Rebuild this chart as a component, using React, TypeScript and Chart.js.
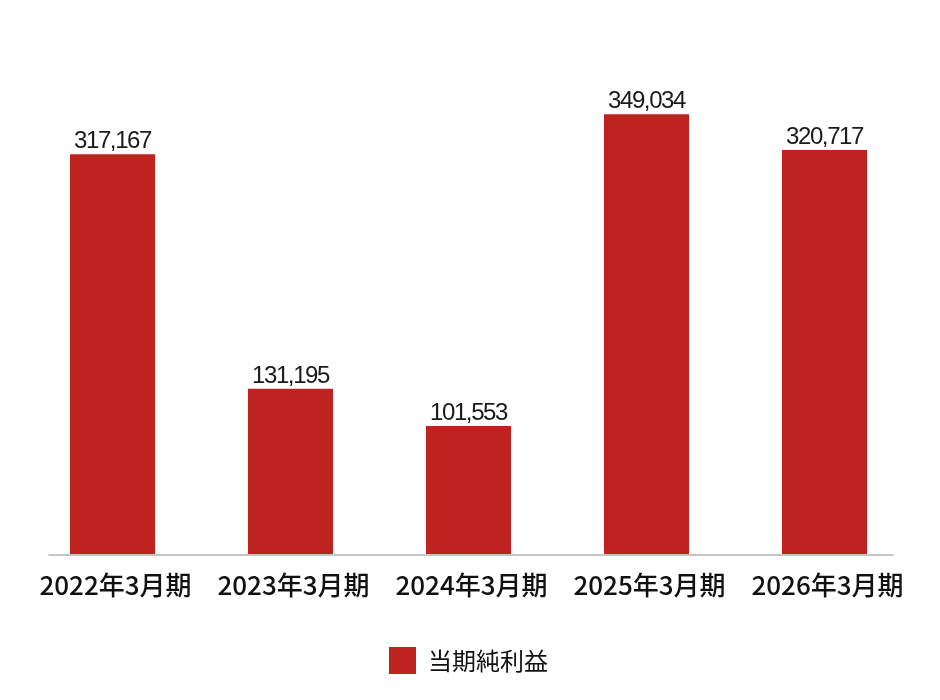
import { useEffect, useRef } from "react";
import Chart from "chart.js/auto";

const PERIODS = ["2022年3月期", "2023年3月期", "2024年3月期", "2025年3月期", "2026年3月期"];
const NET_INCOME = [317167, 131195, 101553, 349034, 320717];
const SERIES_LABEL = "当期純利益";

const BAR_RED = "#bf2320";

// value labels above each bar
const valueLabels = {
  id: "valueLabels",
  afterDatasetsDraw(chart: any) {
    const ctx = chart.ctx;
    const meta = chart.getDatasetMeta(0);
    ctx.save();
    ctx.font = "24px 'Liberation Sans', Arial, sans-serif";
    ctx.letterSpacing = "-1.4px";
    ctx.fillStyle = "#1a1a1a";
    ctx.textAlign = "center";
    ctx.textBaseline = "alphabetic";
    meta.data.forEach((bar: any, i: number) => {
      const v = chart.data.datasets[0].data[i] as number;
      ctx.fillText(v.toLocaleString("en-US"), bar.x, bar.y - 6);
    });
    ctx.restore();
  },
};

// baseline drawn a little shorter than the plot area
const baseLine = {
  id: "baseLine",
  beforeDatasetsDraw(chart: any) {
    const { ctx, chartArea } = chart;
    ctx.save();
    ctx.strokeStyle = "#c4c4c4";
    ctx.lineWidth = 2;
    ctx.beginPath();
    ctx.moveTo(chartArea.left + 25, chartArea.bottom + 1);
    ctx.lineTo(chartArea.right - 20, chartArea.bottom + 1);
    ctx.stroke();
    ctx.restore();
  },
};

export default function App() {
  const canvasRef = useRef<HTMLCanvasElement>(null);
  const chartRef = useRef<Chart | null>(null);

  useEffect(() => {
    document.body.style.margin = "0";
    if (!canvasRef.current) return;
    if (chartRef.current) chartRef.current.destroy();

    chartRef.current = new Chart(canvasRef.current, {
      type: "bar",
      data: {
        labels: PERIODS,
        datasets: [
          {
            label: SERIES_LABEL,
            data: NET_INCOME,
            backgroundColor: BAR_RED,
            categoryPercentage: 1,
            barPercentage: 0.478,
          },
        ],
      },
      options: {
        responsive: false,
        animation: false,
        layout: { padding: { top: 50, left: 23.5, right: 26.5, bottom: 16 } },
        plugins: {
          tooltip: { enabled: false },
          legend: {
            position: "bottom",
            labels: {
              boxWidth: 27,
              boxHeight: 27,
              padding: 10,
              color: "#111",
              font: { family: "'Noto Sans CJK JP', sans-serif", size: 24 },
            },
          },
        },
        scales: {
          x: {
            grid: { display: false, drawTicks: false },
            border: { display: false },
            ticks: {
              padding: 16,
              labelOffset: 3,
              color: "#111",
              font: { family: "'Noto Sans CJK JP', sans-serif", size: 26, weight: 500 },
            },
            afterFit(scale: any) {
              scale.height = 83;
            },
          },
          y: {
            display: false,
            min: 0,
            max: 400000,
          },
        },
      },
      plugins: [baseLine, valueLabels],
    });

    return () => {
      if (chartRef.current) {
        chartRef.current.destroy();
        chartRef.current = null;
      }
    };
  }, []);

  return (
    <div style={{ width: 940, height: 700, background: "#fff" }}>
      <canvas ref={canvasRef} width={940} height={700}></canvas>
    </div>
  );
}
